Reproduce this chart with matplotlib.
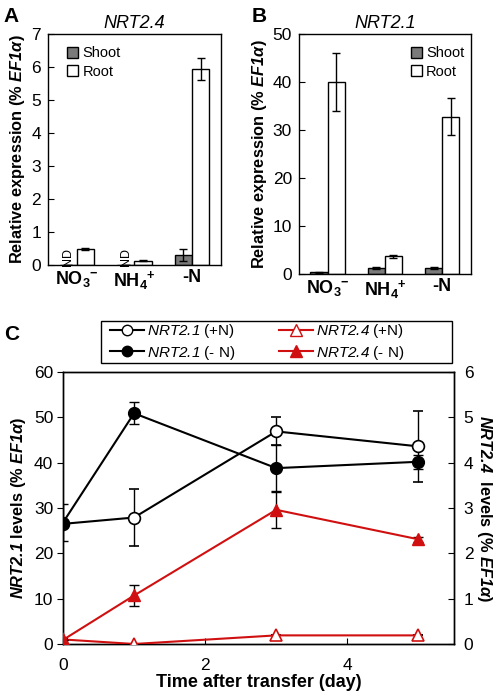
import matplotlib
matplotlib.use('Agg')
import matplotlib.pyplot as plt
import numpy as np
from matplotlib.lines import Line2D
from matplotlib.patches import Patch, Rectangle

plt.rcParams['font.family'] = ['Liberation Sans', 'DejaVu Sans']
plt.rcParams['mathtext.fontset'] = 'custom'
plt.rcParams['mathtext.sf'] = 'Liberation Sans:italic'
plt.rcParams['mathtext.bf'] = 'Liberation Sans:italic:bold'
plt.rcParams['mathtext.rm'] = 'Liberation Sans'

# Panel A / B data
categories = ['NO$_\\mathdefault{3}$$^\\mathdefault{-}$',
              'NH$_\\mathdefault{4}$$^\\mathdefault{+}$', '-N']
a_shoot = [0.0, 0.0, 0.30]
a_shoot_err = [0.0, 0.0, 0.19]
a_root = [0.48, 0.12, 5.94]
a_root_err = [0.04, 0.02, 0.33]
a_nd = [True, True, False]

b_shoot = [0.3, 1.2, 1.3]
b_shoot_err = [0.05, 0.2, 0.2]
b_root = [40.0, 3.7, 32.8]
b_root_err = [6.0, 0.3, 3.9]

# Panel C data
days = [0, 1, 3, 5]
nrt21_pN = [26.5, 27.9, 46.9, 43.6]
nrt21_pN_err = [0.0, 6.3, 3.1, 7.9]
nrt21_mN = [26.8, 50.9, 38.8, 40.2]
nrt21_mN_err = [4.0, 2.4, 5.0, 1.5]
nrt24_pN = [0.10, 0.0, 0.19, 0.19]
nrt24_pN_err = [0.0, 0.0, 0.0, 0.0]
nrt24_mN = [0.09, 1.07, 2.96, 2.31]
nrt24_mN_err = [0.0, 0.23, 0.39, 0.05]

shoot_color = '#7a7a7a'
red = '#d01010'

fig = plt.figure(figsize=(4.98, 6.95), dpi=100, facecolor='white')

def bar_panel(rect, shoot, shoot_err, root, root_err, ymax, ystep, title, legend_x):
    ax = fig.add_axes(rect)
    x = np.arange(len(categories))
    w = 0.3
    ekw = dict(ecolor='black', elinewidth=1, capsize=3, capthick=1)
    ax.bar(x - w / 2, shoot, w, yerr=shoot_err, color=shoot_color, edgecolor='black',
           linewidth=1, error_kw=ekw)
    ax.bar(x + w / 2, root, w, yerr=root_err, color='white', edgecolor='black',
           linewidth=1, error_kw=ekw)
    ax.set_xlim(-0.5, 2.5)
    ax.set_ylim(0, ymax)
    ax.set_yticks(np.arange(0, ymax + 0.01, ystep))
    ax.set_xticks(x)
    ax.set_xticklabels(categories, fontsize=13, fontweight='bold')
    ax.tick_params(axis='x', length=0, pad=3)
    ax.tick_params(axis='y', direction='in', length=4, labelsize=12.5, pad=5)
    for s in ax.spines.values():
        s.set_linewidth(1)
    ax.set_title(title, fontsize=13, style='italic', pad=4)
    ax.set_ylabel('Relative expression (% $\\mathbf{EF1α}$)', fontsize=11.8, fontweight='bold',
                  labelpad=3)
    handles = [Patch(facecolor=shoot_color, edgecolor='black', label='Shoot'),
               Patch(facecolor='white', edgecolor='black', label='Root')]
    ax.legend(handles=handles, loc='upper left', bbox_to_anchor=(legend_x, 0.985),
              frameon=False, fontsize=10.5, handlelength=0.75, handleheight=0.75,
              handletextpad=0.3, labelspacing=0.3, borderaxespad=0.2)
    return ax

axA = bar_panel([0.0964, 0.619, 0.347, 0.332], a_shoot, a_shoot_err, a_root, a_root_err,
                7, 1, 'NRT2.4', 0.06)
for i, nd in enumerate(a_nd):
    if nd:
        axA.text(i - 0.15, 0.25, 'ND', rotation=90, ha='center', va='center', fontsize=9)

axB = bar_panel([0.6004, 0.606, 0.345, 0.345], b_shoot, b_shoot_err, b_root, b_root_err,
                50, 10, 'NRT2.1', 0.6)

fig.text(0.008, 0.99, 'A', fontsize=15, fontweight='bold', va='top')
fig.text(0.505, 0.99, 'B', fontsize=15, fontweight='bold', va='top')
fig.text(0.008, 0.533, 'C', fontsize=15, fontweight='bold', va='top')

# Panel C
axC = fig.add_axes([0.1265, 0.0734, 0.785, 0.3913])
axR = axC.twinx()
ekw = dict(elinewidth=1, capsize=3.5, capthick=1)
axC.errorbar(days, nrt21_pN, yerr=nrt21_pN_err, color='black', lw=1.5, marker='o',
             ms=8.5, mfc='white', mec='black', mew=1.2, ecolor='black', **ekw, zorder=3)
axC.errorbar(days, nrt21_mN, yerr=nrt21_mN_err, color='black', lw=1.5, marker='o',
             ms=8.5, mfc='black', mec='black', ecolor='black', **ekw, zorder=4)
axR.errorbar(days, nrt24_pN, yerr=nrt24_pN_err, color=red, lw=1.5, marker='^',
             ms=9, mfc='white', mec=red, mew=1.2, ecolor='black', **ekw, zorder=3)
axR.errorbar(days, nrt24_mN, yerr=nrt24_mN_err, color=red, lw=1.5, marker='^',
             ms=9, mfc=red, mec=red, ecolor='black', **ekw, zorder=4)

axC.set_xlim(0, 5.5)
axC.set_ylim(0, 60)
axR.set_ylim(0, 6)
axC.set_xticks([0, 2, 4])
axC.set_yticks(np.arange(0, 61, 10))
axR.set_yticks(np.arange(0, 7, 1))
axC.tick_params(axis='x', direction='in', length=4, labelsize=12.5, pad=10)
axC.tick_params(axis='y', direction='out', length=4, labelsize=12.5, pad=3)
axR.tick_params(axis='y', direction='in', length=4, labelsize=12.5, pad=7)
for a in (axC, axR):
    for s in a.spines.values():
        s.set_linewidth(1)
axC.set_xlabel('Time after transfer (day)', fontsize=13, fontweight='bold', labelpad=1)
axC.set_ylabel('$\\mathbf{NRT2.1}$ levels (% $\\mathbf{EF1α}$)', fontsize=11.8,
               fontweight='bold', labelpad=4)
axR.set_ylabel('$\\mathbf{NRT2.4}$  levels (% $\\mathbf{EF1α}$)', fontsize=11.8,
               fontweight='bold', rotation=270, labelpad=15)

# legend box for panel C (wider than its content, as in the original)
fig.patches.append(Rectangle((101 / 498, 1 - 363 / 695), 351 / 498, 42 / 695,
                             transform=fig.transFigure, facecolor='white',
                             edgecolor='black', linewidth=1))
leg_handles = [
    Line2D([], [], color='black', lw=1.5, marker='o', ms=7.5, mfc='white', mec='black'),
    Line2D([], [], color='black', lw=1.5, marker='o', ms=7.5, mfc='black', mec='black'),
    Line2D([], [], color=red, lw=1.5, marker='^', ms=8, mfc='white', mec=red),
    Line2D([], [], color=red, lw=1.5, marker='^', ms=8, mfc=red, mec=red),
]
leg_labels = ['$\\mathsf{NRT2.1}$ (+N)', '$\\mathsf{NRT2.1}$ (- N)',
              '$\\mathsf{NRT2.4}$ (+N)', '$\\mathsf{NRT2.4}$ (- N)']
fig.legend(leg_handles, leg_labels, ncol=2, loc='center left',
           bbox_to_anchor=(110 / 498, 1 - 342 / 695), fontsize=11, frameon=False,
           handlelength=2.2, handletextpad=0.2, columnspacing=2.9, labelspacing=0.2,
           borderpad=0, borderaxespad=0)

fig.savefig('out.png', dpi=100, facecolor='white')
